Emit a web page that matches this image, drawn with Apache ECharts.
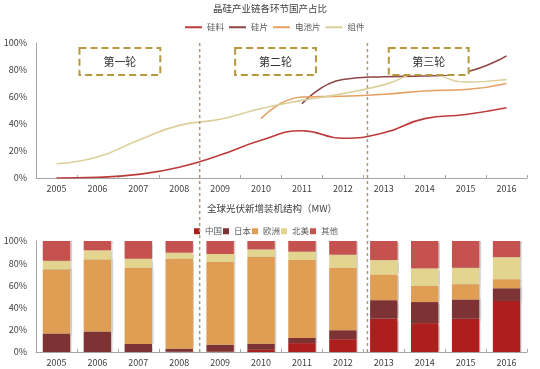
<!DOCTYPE html>
<html><head><meta charset="utf-8">
<script src="https://cdn.jsdelivr.net/npm/echarts@6/dist/echarts.min.js"></script>
<style>html,body{margin:0;padding:0;background:#fff}#c{width:540px;height:369px}</style>
</head><body><div id="c"></div>
<script>
const years = ['2005','2006','2007','2008','2009','2010','2011','2012','2013','2014','2015','2016'];
// 上图：国产占比 (%)
const siliconMaterial = [0, 0.5, 2.7, 8, 17, 28, 35, 29.5, 33.5, 44, 47, 52];
const siliconWafer    = [null, null, null, null, null, null, 55, 73, 75, 75.5, 78.5, 90.5];
const cell            = [null, null, null, null, null, 44, 60, 60.5, 62, 64.5, 65.5, 70];
const modules         = [10.5, 15.5, 28, 39, 43.5, 51.5, 57.5, 62.5, 69, 78, 71, 73];
// 下图：全球光伏新增装机结构 (%)
const china   = [0, 0, 0, 0.3, 0.5, 2, 8, 11.5, 30, 26, 30, 46];
const japan   = [16.6, 18.4, 7.2, 2.7, 6, 5.5, 4.7, 8.1, 16.7, 19, 17.3, 11.4];
const europe  = [57.8, 65, 68.7, 81, 74.5, 78.3, 70.1, 56.3, 23.2, 14.6, 13.8, 8.2];
const america = [7.8, 8.2, 8.1, 5.5, 7.3, 6.7, 7.6, 11.8, 12.9, 15.7, 14.8, 19.8];
const others  = [17.8, 8.4, 16, 10.5, 11.7, 7.5, 9.6, 12.3, 17.2, 24.7, 24.1, 14.6];
const roundLabels = ['第一轮', '第二轮', '第三轮'];

const FONT = '"Noto Sans CJK SC", sans-serif';
const txt = '#404040';
const chart = echarts.init(document.getElementById('c'));
const axisLine = {show: true, lineStyle: {color: '#a6a6a6', width: 1}};
const xAxisCommon = {
  type: 'category', data: years, boundaryGap: true,
  axisLine: axisLine,
  axisTick: {show: true, inside: true, length: 3, lineStyle: {color: '#a6a6a6'}},
  axisLabel: {color: txt, fontSize: 9, fontFamily: FONT, margin: 6}
};
const yAxisCommon = {
  type: 'value', min: 0, max: 100, interval: 20,
  axisLine: axisLine,
  axisTick: {show: false},
  splitLine: {show: false},
  axisLabel: {color: txt, fontSize: 9, fontFamily: FONT, formatter: '{value}%', margin: 9}
};
const lineS = (name, data, color) => ({
  name, type: 'line', data, smooth: true, showSymbol: false, symbol: 'none',
  xAxisIndex: 0, yAxisIndex: 0, connectNulls: false,
  lineStyle: {color, width: 1.6}, itemStyle: {color}
});
const barS = (name, data, color) => ({
  name, type: 'bar', stack: 'all', data, xAxisIndex: 1, yAxisIndex: 1,
  barWidth: '67%',
  itemStyle: {color, shadowColor: 'rgba(0,0,0,0.18)', shadowOffsetX: 1.5, shadowBlur: 1}
});
const option = {
  animation: false,
  textStyle: {fontFamily: FONT},
  title: [
    {text: '晶硅产业链各环节国产占比', left: 'center', top: -1,
     textStyle: {fontSize: 9.5, fontWeight: 'normal', color: '#404040', fontFamily: FONT}},
    {text: '全球光伏新增装机结构（MW）', left: 267, top: 199, textAlign: 'center',
     textStyle: {fontSize: 9.5, fontWeight: 'normal', color: '#404040', fontFamily: FONT}}
  ],
  legend: [
    {data: ['硅料', '硅片', '电池片', '组件'], left: 180, top: 18,
     itemWidth: 17, itemHeight: 2, itemGap: 5, icon: 'rect',
     textStyle: {fontSize: 8.5, color: '#595959', fontFamily: FONT}},
    {data: ['中国', '日本', '欧洲', '北美', '其他'], left: 189, top: 222,
     itemWidth: 6, itemHeight: 6, itemGap: 1, icon: 'rect',
     textStyle: {fontSize: 8.5, color: '#595959', fontFamily: FONT}}
  ],
  grid: [
    {left: 36, right: 13, top: 43, bottom: 191},
    {left: 36, right: 13, top: 241, bottom: 17}
  ],
  xAxis: [Object.assign({gridIndex: 0}, xAxisCommon), Object.assign({gridIndex: 1}, xAxisCommon)],
  yAxis: [Object.assign({gridIndex: 0}, yAxisCommon), Object.assign({gridIndex: 1}, yAxisCommon)],
  series: [
    lineS('硅料', siliconMaterial, '#bd3b3b'),
    lineS('硅片', siliconWafer, '#8e4646'),
    lineS('电池片', cell, '#e5a062'),
    lineS('组件', modules, '#dccf9a'),
    barS('中国', china, '#ad1f1c'),
    barS('日本', japan, '#7d3333'),
    barS('欧洲', europe, '#df9e54'),
    barS('北美', america, '#e3d48f'),
    barS('其他', others, '#c6524f')
  ]
};
chart.setOption(option);

// decorations: round dividers and boxes
const px = (i) => chart.convertToPixel({xAxisIndex: 0}, years[i]);
const yTop = chart.convertToPixel({yAxisIndex: 0}, 100);
const d1 = (px(3) + px(4)) / 2;
const d2 = px(7) + 0.6 * (px(8) - px(7));
const yBottom = chart.convertToPixel({yAxisIndex: 1}, 0);
const dashColor = '#a89a78';
const boxColor = '#b8983e';
const boxes = [[px(0) + 23, px(2) + 22], [px(4) + 15, px(6) + 14], [px(8) + 5, px(10) + 3]];
const graphics = [];
[d1, d2].forEach(x => graphics.push({
  type: 'line', shape: {x1: x, y1: yTop, x2: x, y2: yBottom},
  style: {stroke: dashColor, lineWidth: 1.5, lineDash: [3, 3]}, z: 10
}));
boxes.forEach((b, i) => {
  graphics.push({
    type: 'rect', shape: {x: b[0], y: yTop + 5, width: b[1] - b[0], height: 27},
    style: {fill: '#fff', stroke: boxColor, lineWidth: 2, lineDash: [7, 4]}, z: 11
  });
  graphics.push({
    type: 'text', x: (b[0] + b[1]) / 2, y: yTop + 18.5, z: 12,
    style: {text: roundLabels[i], fill: '#333', font: '11px ' + FONT, align: 'center', verticalAlign: 'middle'}
  });
});
chart.setOption({graphic: graphics});
</script></body></html>
